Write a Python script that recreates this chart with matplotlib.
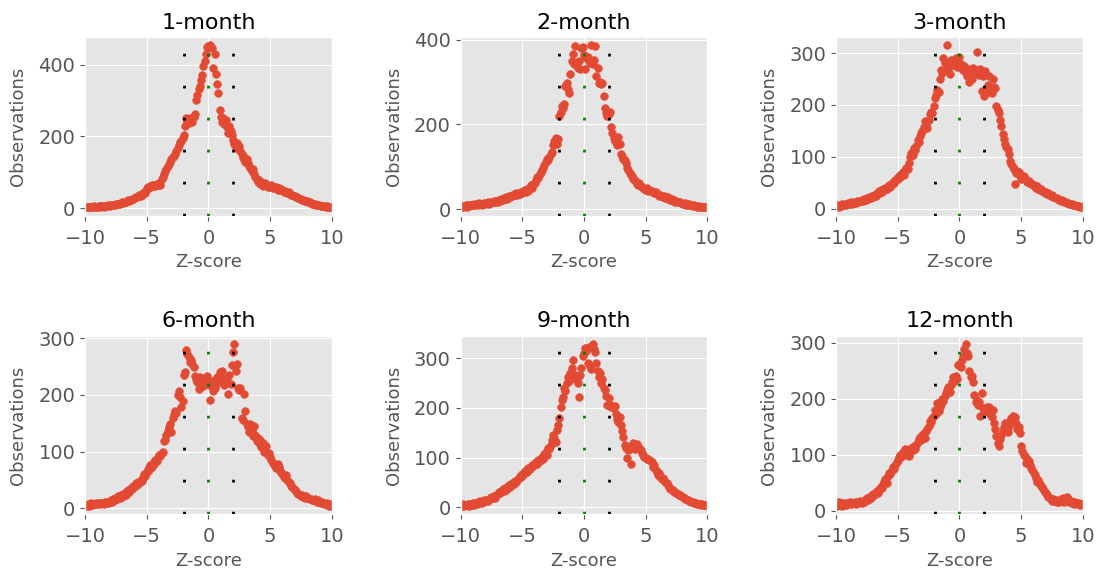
import numpy as np
import matplotlib
matplotlib.use("Agg")
import matplotlib.pyplot as plt
from matplotlib.ticker import MaxNLocator

plt.style.use('ggplot')

# Z-score bins (-10 .. 10, step 0.1)
zscore = np.round(np.arange(-10, 10.05, 0.1), 1)

titles = ['1-month', '2-month', '3-month', '6-month', '9-month', '12-month']

obs_1m = [3, 2, 4, 3, 2, 4, 3, 5, 4, 3,
          4, 5, 3, 5, 6, 4, 6, 7, 5, 8,
          7, 9, 8, 10, 9, 12, 11, 13, 12, 14,
          16, 15, 18, 17, 20, 22, 21, 24, 26, 25,
          28, 31, 30, 34, 36, 33, 38, 41, 44, 42,
          55, 60, 57, 62, 64, 61, 66, 63, 68, 65,
          70, 66, 82, 88, 96, 103, 110, 118, 124, 130,
          138, 142, 145, 152, 160, 168, 176, 184, 188, 196,
          205, 228, 250, 244, 238, 252, 246, 240, 255, 262,
          302, 316, 332, 340, 358, 372, 395, 409, 430, 448,
          452, 454, 449, 446, 390, 431, 375, 347, 322, 275,
          255, 240, 250, 235, 245, 225, 210, 230, 215, 205,
          190, 178, 170, 182, 165, 172, 160, 150, 140, 144,
          130, 138, 125, 118, 112, 104, 110, 96, 86, 80,
          72, 78, 68, 74, 62, 66, 70, 64, 58, 62,
          60, 64, 57, 60, 55, 58, 52, 55, 50, 53,
          50, 46, 48, 44, 42, 45, 40, 38, 36, 35,
          33, 31, 30, 28, 26, 27, 24, 22, 21, 20,
          19, 17, 16, 14, 13, 12, 11, 10, 9, 10,
          8, 7, 6, 7, 5, 4, 5, 3, 4, 3,
          2]

obs_2m = [5, 8, 4, 7, 9, 6, 10, 8, 11, 9,
          10, 12, 9, 13, 11, 14, 12, 10, 13, 15,
          12, 14, 16, 13, 15, 18, 16, 19, 17, 20,
          18, 22, 20, 24, 21, 26, 23, 28, 25, 30,
          28, 32, 30, 35, 33, 37, 34, 38, 36, 40,
          38, 42, 45, 41, 48, 44, 52, 56, 50, 60,
          62, 70, 76, 74, 82, 88, 92, 98, 105, 112,
          118, 115, 124, 130, 135, 152, 160, 168, 155, 165,
          220, 230, 243, 238, 248, 290, 298, 283, 275, 320,
          350, 367, 342, 386, 345, 334, 350, 330, 380, 383,
          365, 330, 357, 360, 350, 345, 387, 343, 353, 386,
          315, 333, 298, 300, 295, 298, 267, 240, 228, 219,
          224, 230, 195, 180, 168, 162, 166, 152, 171, 155,
          130, 125, 118, 115, 108, 98, 92, 86, 80, 78,
          72, 68, 64, 60, 58, 62, 55, 52, 50, 48,
          46, 50, 44, 45, 42, 44, 40, 38, 41, 36,
          35, 32, 34, 30, 29, 31, 27, 26, 28, 24,
          22, 24, 20, 21, 18, 19, 17, 16, 18, 14,
          13, 12, 14, 11, 10, 12, 9, 10, 8, 9,
          7, 8, 6, 7, 5, 6, 5, 4, 5, 4,
          4]

obs_3m = [4, 6, 3, 7, 5, 8, 6, 9, 7, 8,
          10, 8, 12, 9, 11, 13, 10, 14, 12, 15,
          14, 17, 15, 19, 16, 20, 18, 22, 21, 24,
          23, 27, 25, 30, 28, 33, 36, 31, 38, 35,
          40, 37, 43, 46, 42, 48, 52, 49, 55, 58,
          56, 62, 60, 66, 70, 64, 74, 78, 76, 88,
          100, 107, 104, 117, 112, 120, 132, 128, 139, 145,
          150, 158, 168, 162, 155, 170, 182, 187, 185, 198,
          213, 220, 228, 225, 249, 267, 262, 290, 280, 270,
          315, 268, 260, 287, 276, 280, 285, 290, 274, 283,
          292, 278, 270, 268, 275, 262, 255, 270, 245, 260,
          250, 272, 265, 268, 303, 262, 258, 270, 227, 255,
          217, 266, 230, 239, 255, 225, 222, 250, 235, 232,
          197, 190, 184, 170, 160, 143, 135, 124, 118, 114,
          106, 91, 85, 80, 76, 47, 68, 72, 70, 62,
          57, 60, 62, 58, 55, 52, 54, 50, 48, 47,
          45, 42, 40, 43, 38, 36, 37, 34, 33, 30,
          31, 28, 29, 27, 25, 26, 23, 22, 20, 21,
          18, 17, 15, 16, 14, 12, 13, 11, 10, 9,
          9, 8, 7, 6, 6, 5, 4, 4, 3, 3,
          2]

obs_6m = [6, 4, 8, 5, 7, 9, 6, 8, 7, 10,
          8, 9, 7, 10, 9, 8, 11, 9, 12, 10,
          12, 15, 11, 17, 14, 19, 16, 21, 18, 23,
          20, 25, 28, 24, 30, 33, 29, 36, 34, 40,
          38, 44, 41, 47, 45, 50, 48, 55, 60, 57,
          64, 70, 67, 76, 73, 80, 78, 85, 83, 90,
          95, 92, 98, 100, 118, 120, 130, 137, 143, 148,
          135, 160, 166, 171, 168, 200, 207, 196, 178, 190,
          236, 241, 279, 272, 267, 258, 262, 255, 250, 233,
          228, 222, 210, 232, 226, 218, 215, 230, 222, 233,
          220, 192, 215, 225, 207, 213, 220, 231, 226, 240,
          232, 243, 225, 218, 221, 230, 201, 235, 219, 252,
          276, 290, 243, 255, 213, 208, 213, 160, 155, 201,
          171, 148, 143, 135, 148, 138, 128, 146, 130, 118,
          125, 115, 120, 108, 116, 100, 103, 110, 95, 98,
          90, 85, 80, 77, 75, 71, 78, 73, 66, 64,
          60, 56, 53, 58, 50, 47, 44, 40, 38, 35,
          33, 30, 28, 26, 24, 22, 23, 20, 19, 21,
          18, 19, 16, 17, 15, 14, 16, 13, 12, 14,
          12, 10, 11, 9, 8, 7, 9, 6, 5, 7,
          5]

obs_9m = [4, 2, 6, 3, 5, 4, 7, 3, 6, 5,
          8, 5, 9, 7, 10, 8, 12, 9, 11, 14,
          12, 15, 13, 17, 16, 20, 18, 22, 19, 24,
          26, 30, 28, 33, 36, 32, 38, 35, 41, 44,
          40, 45, 48, 46, 52, 50, 55, 58, 62, 60,
          66, 64, 72, 75, 70, 78, 76, 80, 84, 82,
          88, 90, 86, 94, 92, 98, 102, 96, 108, 112,
          106, 120, 118, 126, 135, 146, 140, 132, 155, 166,
          180, 201, 215, 223, 240, 235, 250, 262, 255, 270,
          280, 296, 260, 266, 258, 250, 223, 266, 280, 305,
          310, 320, 315, 291, 322, 285, 279, 329, 318, 312,
          290, 275, 262, 270, 250, 258, 240, 236, 224, 205,
          220, 206, 202, 203, 199, 204, 187, 178, 172, 182,
          166, 153, 142, 126, 120, 100, 116, 118, 87, 122,
          130, 118, 124, 128, 122, 120, 116, 110, 105, 102,
          100, 98, 96, 94, 92, 90, 80, 85, 74, 70,
          65, 68, 60, 56, 58, 54, 50, 48, 44, 40,
          37, 34, 35, 31, 30, 28, 26, 24, 25, 22,
          20, 18, 16, 17, 14, 13, 12, 11, 10, 9,
          8, 9, 7, 6, 7, 5, 6, 4, 5, 4,
          5]

obs_12m = [12, 8, 15, 10, 14, 9, 13, 11, 10, 14,
           12, 15, 11, 14, 13, 16, 12, 15, 14, 17,
           16, 14, 18, 15, 20, 22, 19, 25, 23, 28,
           30, 27, 33, 35, 32, 38, 42, 40, 48, 52,
           56, 50, 62, 68, 65, 72, 78, 74, 82, 86,
           90, 96, 100, 95, 104, 102, 110, 100, 108, 98,
           105, 112, 108, 115, 110, 118, 122, 128, 132, 126,
           135, 139, 130, 142, 146, 152, 160, 158, 165, 170,
           180, 172, 192, 178, 185, 190, 200, 196, 205, 210,
           215, 221, 212, 225, 230, 238, 232, 240, 235, 260,
           262, 256, 270, 277, 289, 298, 282, 276, 250, 238,
           240, 230, 207, 194, 198, 188, 195, 170, 210, 183,
           178, 180, 185, 176, 186, 172, 168, 180, 157, 146,
           133, 120, 115, 128, 135, 142, 150, 157, 145, 140,
           152, 160, 165, 170, 163, 168, 157, 146, 150, 138,
           115, 106, 100, 97, 85, 92, 88, 82, 76, 73,
           68, 64, 58, 52, 55, 48, 44, 42, 38, 34,
           31, 28, 25, 22, 20, 18, 21, 17, 19, 16,
           18, 15, 20, 17, 22, 16, 19, 25, 21, 15,
           18, 14, 16, 12, 15, 13, 11, 14, 10, 12,
           11]

series = [obs_1m, obs_2m, obs_3m, obs_6m, obs_9m, obs_12m]

# markers at the mean and +/- 2 sigma
vlines = [(-2, 'k'), (0, 'g'), (2, 'k')]

fig, axes = plt.subplots(2, 3, figsize=(10.96, 5.72), dpi=100)
fig.subplots_adjust(left=0.0776, right=0.988, top=0.935, bottom=0.101,
                    wspace=0.522, hspace=0.674)

for ax, title, obs in zip(axes.flat, titles, series):
    ax.scatter(zscore, obs, s=30, color='#E24A33', zorder=2)
    for xv, c in vlines:
        ax.axvline(xv, color=c, lw=2, linestyle=(0, (1.0, 10.52)), zorder=3)
    ax.set_xlim(-10, 10)
    ax.set_xticks([-10, -5, 0, 5, 10])
    ax.yaxis.set_major_locator(MaxNLocator(4, steps=[1, 2, 2.5, 5, 10]))
    ax.set_title(title, fontsize=16)
    ax.set_xlabel('Z-score', fontsize=13)
    ax.set_ylabel('Observations', fontsize=13, labelpad=8)
    ax.tick_params(labelsize=14)
    ax.tick_params(axis='x', pad=6)

fig.savefig('out.png', dpi=100)
